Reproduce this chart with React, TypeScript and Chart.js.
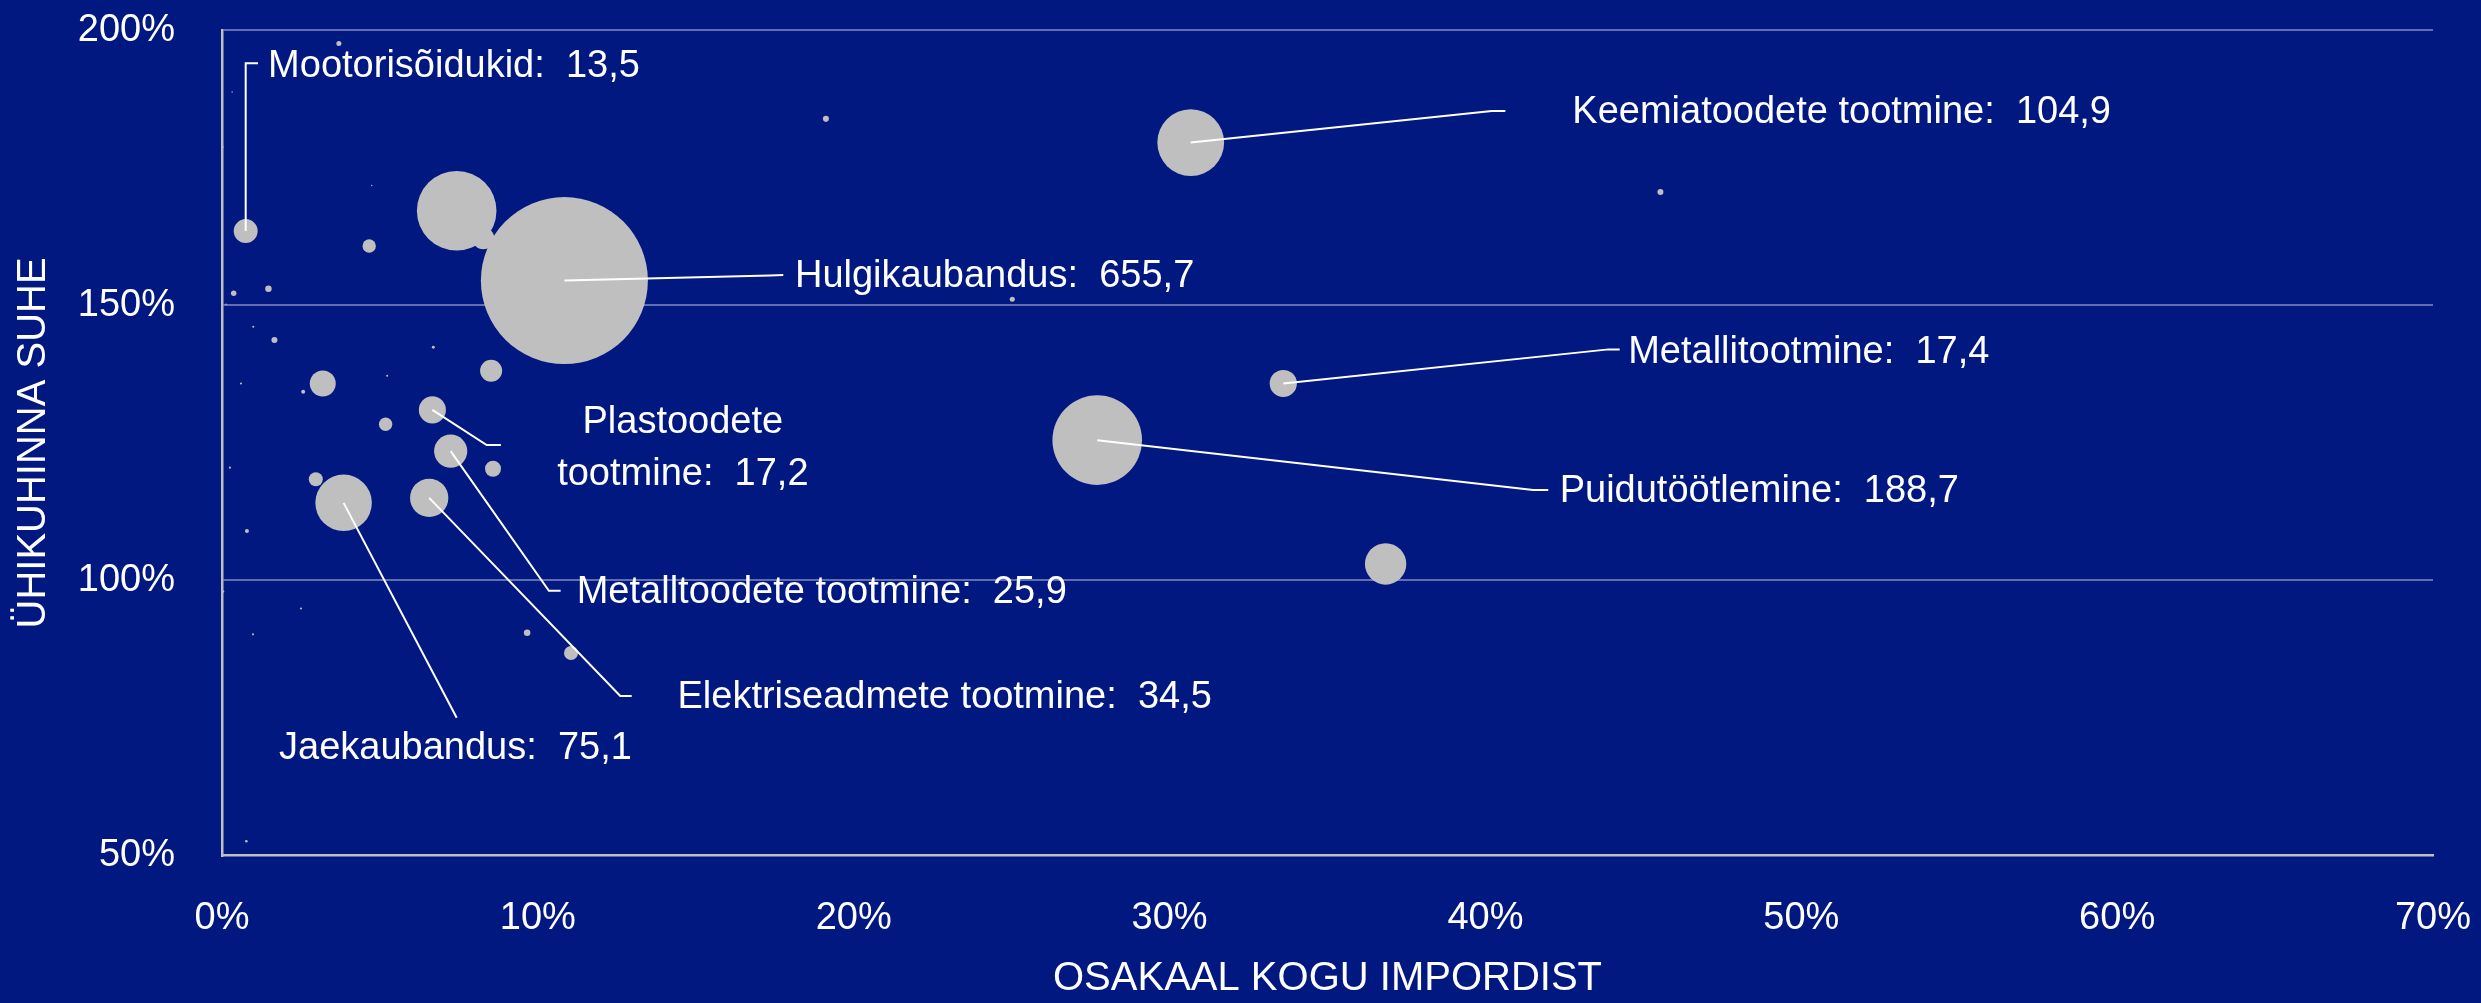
import React, { useEffect, useRef } from "react";
import { Chart, registerables } from "chart.js";

Chart.register(...registerables);

// ---------- DATA ----------
const sectors = [
  "Mootorisõidukid", "Hulgikaubandus", "", "", "Keemiatoodete tootmine", "Metallitootmine",
  "Puidutöötlemine", "", "Plastoodete tootmine", "Metalltoodete tootmine", "Elektriseadmete tootmine",
  "Jaekaubandus", "", "", "", "", "", "", "", "", "", "", "", "", "", "", "", "", "", "", "", "", "",
  "", "", "", "", "", "", "", "", "",
];
// share of total import, %
const importShare = [
  0.75, 10.84, 7.43, 8.27, 30.67, 33.6, 27.71, 36.84, 6.66, 7.24, 6.56, 3.85, 4.66, 8.52, 3.19, 5.18,
  8.58, 2.97, 11.05, 9.66, 1.47, 0.37, 1.66, 3.7, 19.12, 25.02, 45.54, 0.79, 6.69, 2.57, 0.77, 0.99,
  0.6, 5.23, 0.32, 4.74, 0.03, 0.13, 0.25, 0.04, 2.5, 0.98,
];
// unit price ratio, %
const unitPriceRatio = [
  163.5, 154.5, 167.2, 162.2, 179.6, 135.8, 125.5, 103.0, 131.0, 123.5, 115.0, 114.1, 160.8, 138.1,
  135.8, 128.4, 120.3, 118.4, 86.8, 90.5, 153.0, 152.2, 143.7, 197.6, 183.9, 151.1, 170.6, 109.0,
  142.4, 134.3, 52.6, 146.1, 135.8, 137.2, 188.8, 171.8, 178.8, 150.2, 120.5, 98.0, 94.9, 90.2,
];
// import value (bubble size)
const importValue = [
  13.5, 655.7, 149, 11.4, 104.9, 17.4, 188.7, 40.3, 17.2, 25.9, 34.5, 75.1, 4.2, 11.4, 15.9, 4.2, 6.0,
  4.6, 4.6, 1.0, 1.0, 0.7, 0.85, 0.6, 0.85, 0.6, 0.85, 0.38, 0.2, 0.38, 0.16, 0.1, 0.1, 0.1, 0.05,
  0.05, 0.05, 0.05, 0.1, 0.1, 0.1, 0.1,
];
const xTickLabels = ["0%", "10%", "20%", "30%", "40%", "50%", "60%", "70%"];
const yTickLabels = ["50%", "100%", "150%", "200%"];
const xTitle = "OSAKAAL KOGU IMPORDIST";
const yTitle = "ÜHIKUHINNA SUHE";

// ---------- CALLOUT LAYOUT (data coordinates) ----------
const callouts = [
  { sector: "Mootorisõidukid", elbow: [0.75, 194.0], end: [1.14, 194.0], text: [1.46, 193.46], align: "left", breakAfter: 0 },
  { sector: "Hulgikaubandus", elbow: [17.35, 155.45], end: [17.77, 155.5], text: [18.14, 155.21], align: "left", breakAfter: 0 },
  { sector: "Keemiatoodete tootmine", elbow: [40.2, 185.33], end: [40.63, 185.33], text: [42.75, 184.98], align: "left", breakAfter: 0 },
  { sector: "Metallitootmine", elbow: [43.9, 142.0], end: [44.25, 142.0], text: [44.52, 141.5], align: "left", breakAfter: 0 },
  { sector: "Puidutöötlemine", elbow: [41.51, 116.44], end: [41.99, 116.44], text: [42.35, 116.11], align: "left", breakAfter: 0 },
  { sector: "Plastoodete tootmine", elbow: [8.38, 124.62], end: [8.83, 124.62], text: [14.59, 128.71], align: "center", breakAfter: 1 },
  { sector: "Metalltoodete tootmine", elbow: [10.35, 98.13], end: [10.72, 98.13], text: [11.23, 97.74], align: "left", breakAfter: 0 },
  { sector: "Elektriseadmete tootmine", elbow: [12.61, 78.99], end: [12.97, 78.99], text: [14.42, 78.67], align: "left", breakAfter: 0 },
  { sector: "Jaekaubandus", elbow: [7.43, 75.05], end: null, text: [7.39, 69.36], align: "center", breakAfter: 0 },
];

// ---------- STYLE ----------
const W = 2481;
const H = 1003;
const BG = "#001880";
const BUBBLE = "#BFBFBF";
const AXIS = "#BFBFBF";
const GRID = "rgba(255,255,255,0.38)";
const FONT = '"Liberation Sans", Arial, sans-serif';
const FONT_SIZE = 38;
const TITLE_SIZE = 40;
const PX_PER_SQRT = 3.261; // bubble radius per sqrt(size)
const LINE_GAP = 51.7;

const fmt = (v: number) => v.toFixed(1).replace(".", ",");

const zeroPad = (s: any) => {
  s.paddingTop = 0;
  s.paddingBottom = 0;
  s.paddingLeft = 0;
  s.paddingRight = 0;
};

const calloutPlugin = {
  id: "callouts",
  afterDatasetsDraw(chart: any) {
    const { ctx, scales } = chart;
    const xs = scales.x;
    const ys = scales.y;
    const px = (p: number[]) => [xs.getPixelForValue(p[0]), ys.getPixelForValue(p[1])];
    ctx.save();
    ctx.strokeStyle = "#FFFFFF";
    ctx.lineWidth = 2;
    ctx.fillStyle = "#FFFFFF";
    ctx.font = `${FONT_SIZE}px ${FONT}`;
    ctx.textBaseline = "middle";
    for (const c of callouts) {
      const i = sectors.indexOf(c.sector);
      if (i < 0) continue;
      const [cx, cy] = px([importShare[i], unitPriceRatio[i]]);
      const [ex, ey] = px(c.elbow);
      ctx.beginPath();
      ctx.moveTo(cx, cy);
      ctx.lineTo(ex, ey);
      if (c.end) {
        const [fx, fy] = px(c.end);
        ctx.lineTo(fx, fy);
      }
      ctx.stroke();
      const label = `${c.sector}:  ${fmt(importValue[i])}`;
      const words = label.split(" ");
      const lines = c.breakAfter
        ? [words.slice(0, c.breakAfter).join(" "), words.slice(c.breakAfter).join(" ")]
        : [label];
      const [tx, ty] = px(c.text);
      ctx.textAlign = c.align;
      lines.forEach((ln, k) => ctx.fillText(ln, tx, ty + k * LINE_GAP));
    }
    ctx.restore();
  },
};

export default function App() {
  const ref = useRef<HTMLCanvasElement>(null);
  useEffect(() => {
    const data = importShare.map((x, i) => ({
      x,
      y: unitPriceRatio[i],
      r: PX_PER_SQRT * Math.sqrt(importValue[i]),
    }));
    const chart = new Chart(ref.current as HTMLCanvasElement, {
      type: "bubble",
      data: {
        datasets: [
          {
            data,
            backgroundColor: BUBBLE,
            borderWidth: 0,
            hoverBorderWidth: 0,
            clip: false,
          } as any,
        ],
      },
      options: {
        responsive: false,
        animation: false,
        devicePixelRatio: 1,
        events: [],
        layout: { autoPadding: false, padding: { top: 30.3, right: 48, left: 0, bottom: 0 } },
        plugins: { legend: { display: false }, tooltip: { enabled: false } },
        scales: {
          x: {
            type: "linear",
            min: 0,
            max: 70,
            ticks: {
              stepSize: 10,
              autoSkip: false,
              maxRotation: 0,
              color: "#FFFFFF",
              padding: 40,
              font: { family: FONT, size: FONT_SIZE },
              callback: (_v: any, idx: number) => xTickLabels[idx],
            },
            grid: { display: false, drawTicks: false },
            border: { display: true, color: AXIS, width: 2.5 },
            title: {
              display: true,
              text: xTitle,
              color: "#FFFFFF",
              font: { family: FONT, size: TITLE_SIZE },
              padding: { top: 0, bottom: 0 },
            },
            afterFit: (s: any) => {
              s.height = 147.5;
              zeroPad(s);
            },
          },
          y: {
            type: "linear",
            min: 50,
            max: 200,
            ticks: {
              stepSize: 50,
              color: "#FFFFFF",
              padding: 47,
              font: { family: FONT, size: FONT_SIZE },
              callback: (_v: any, idx: number) => yTickLabels[idx],
            },
            grid: {
              drawTicks: false,
              lineWidth: 2,
              color: (c: any) => (c.tick && c.tick.value === 50 ? "rgba(0,0,0,0)" : GRID),
            },
            border: { display: true, color: AXIS, width: 2.5 },
            title: {
              display: true,
              text: yTitle,
              color: "#FFFFFF",
              font: { family: FONT, size: TITLE_SIZE },
              padding: { top: 10, bottom: 0 },
            },
            afterFit: (s: any) => {
              s.width = 222;
              zeroPad(s);
            },
          },
        },
      } as any,
      plugins: [calloutPlugin],
    });
    return () => chart.destroy();
  }, []);
  return (
    <div style={{ position: "fixed", left: 0, top: 0, width: W, height: H, background: BG }}>
      <canvas ref={ref} width={W} height={H} style={{ display: "block", width: W, height: H }} />
    </div>
  );
}
